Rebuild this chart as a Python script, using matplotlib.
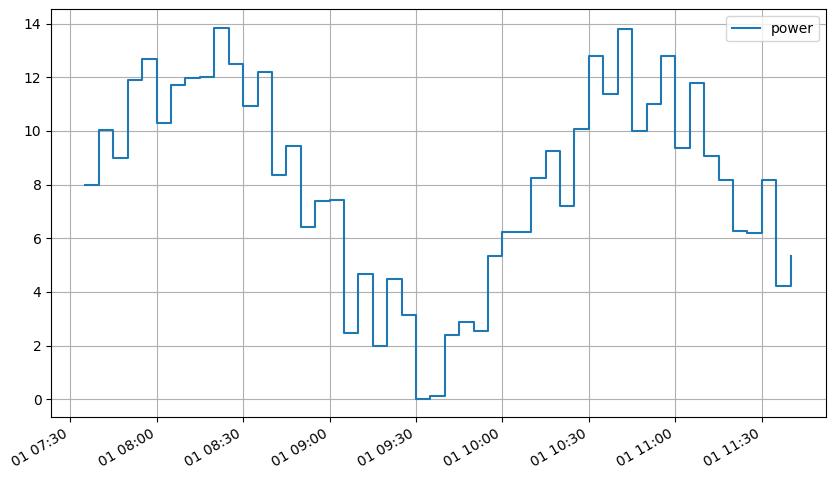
import matplotlib
matplotlib.use("Agg")
import matplotlib.pyplot as plt
import matplotlib.dates as mdates
import pandas as pd

start = "2024-01-01 07:35"
freq = "5min"
power = [8.00, 10.04, 9.00, 11.90, 12.68, 10.29, 11.70, 11.96, 12.01, 13.84,
         12.50, 10.93, 12.20, 8.37, 9.45, 6.43, 7.38, 7.41, 2.48, 4.66,
         1.99, 4.47, 3.15, 0.02, 0.12, 2.39, 2.87, 2.55, 5.33, 6.22,
         6.23, 8.25, 9.26, 7.20, 10.08, 12.80, 11.38, 13.80, 10.00, 11.01,
         12.80, 9.38, 11.79, 9.05, 8.18, 6.26, 6.21, 8.17, 4.23, 5.34]
times = pd.date_range(start, periods=len(power), freq=freq)
x_left = pd.Timestamp("2024-01-01 07:23:25")
x_right = pd.Timestamp("2024-01-01 11:52:20")

fig = plt.figure(figsize=(8.35, 4.8), dpi=100)
ax = fig.add_axes([0.0614, 0.1306, 0.928, 0.85])
ax.plot(times.to_pydatetime(), power, drawstyle="steps-post", color="#1f77b4",
        lw=1.5, label="power")
ax.set_xlim(x_left.to_pydatetime(), x_right.to_pydatetime())
ax.grid(True, color="#b0b0b0", lw=0.8)
ax.xaxis.set_major_locator(mdates.MinuteLocator(byminute=[0, 30]))
ax.xaxis.set_major_formatter(mdates.DateFormatter("%d %H:%M"))
for lab in ax.get_xticklabels():
    lab.set_rotation(30)
    lab.set_ha("right")
ax.legend(loc="upper right")
fig.savefig("out.png", dpi=100)
